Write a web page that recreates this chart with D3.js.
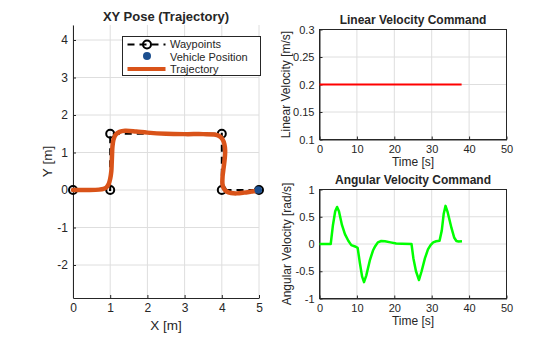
<!DOCTYPE html>
<html>
<head>
<meta charset="utf-8">
<script src="https://cdn.jsdelivr.net/npm/d3@7"></script>
<style>
  body { margin: 0; background: #fff; }
  svg { font-family: Arial, "Liberation Sans", sans-serif; }
</style>
</head>
<body>
<svg id="chart" width="560" height="337"></svg>
<script>
// waypoints
wpX = [0, 1, 1, 4, 4, 5];
wpY = [0, 0, 1.5, 1.5, 0, 0];

// followed trajectory
trajX = [0, 0.4, 0.7, 0.82, 0.9, 0.96, 1.0, 1.03, 1.04, 1.05, 1.06, 1.09, 1.15, 1.25, 1.4, 1.7, 2.0, 2.5, 3.0, 3.5, 3.8, 3.93, 4.02, 4.07, 4.09, 4.08, 4.05, 4.02, 4.02, 4.06, 4.13, 4.25, 4.4, 4.6, 4.8, 4.94, 5.0];
trajY = [0, 0, 0.01, 0.03, 0.07, 0.16, 0.3, 0.5, 0.7, 0.95, 1.15, 1.35, 1.48, 1.55, 1.58, 1.56, 1.53, 1.5, 1.49, 1.49, 1.48, 1.44, 1.35, 1.22, 1.05, 0.85, 0.6, 0.35, 0.15, 0.03, -0.04, -0.08, -0.09, -0.07, -0.04, -0.02, 0];

vehX = [4.98];
vehY = [0];

// commands
linT = [0, 38];
linV = [0.2, 0.2];

angT = [0, 3, 3.6, 4.2, 4.7, 5.2, 6, 6.8, 7.7, 8.5, 9.7, 10.2, 10.8, 11.4, 11.9, 12.5, 13.5, 14.3, 14.9, 15.6, 16.5, 17.5, 19, 20.5, 22, 24.6, 25.1, 25.8, 26.6, 27.3, 28.2, 29, 29.7, 30.4, 31.2, 32.1, 32.7, 33.2, 33.7, 34.2, 35.3, 36, 36.6, 37.2, 38.1];
angW = [0, 0, 0.35, 0.6, 0.68, 0.6, 0.35, 0.18, 0.06, -0.02, -0.05, -0.07, -0.35, -0.6, -0.7, -0.58, -0.29, -0.12, -0.04, 0.03, 0.055, 0.05, 0.03, 0.01, 0.005, 0, -0.26, -0.5, -0.66, -0.5, -0.26, -0.1, -0.02, 0.03, 0.05, 0.06, 0.25, 0.55, 0.7, 0.6, 0.29, 0.12, 0.055, 0.045, 0.05];

xyTicksX = [0, 1, 2, 3, 4, 5];
xyTicksY = [-2, -1, 0, 1, 2, 3, 4];
timeTicks = [0, 10, 20, 30, 40, 50];
linTicks = [0.1, 0.15, 0.2, 0.25, 0.3];
angTicks = [-1, -0.5, 0, 0.5, 1];

const textCol = '#262626';
const gridCol = '#dedede';
const svg = d3.select('#chart');

function panel(o) {
  const g = svg.append('g');
  const x = d3.scaleLinear().domain(o.xd).range([o.l, o.r]);
  const y = d3.scaleLinear().domain(o.yd).range([o.b, o.t]);

  // grid
  g.append('g')
    .selectAll('line')
    .data(o.xt)
    .join('line')
    .attr('x1', d => x(d)).attr('x2', d => x(d))
    .attr('y1', o.t).attr('y2', o.b)
    .attr('stroke', gridCol).attr('stroke-width', 1);
  g.append('g')
    .selectAll('line')
    .data(o.yt)
    .join('line')
    .attr('x1', o.l).attr('x2', o.r)
    .attr('y1', d => y(d)).attr('y2', d => y(d))
    .attr('stroke', gridCol).attr('stroke-width', 1);

  const xAxis = g.append('g')
    .attr('transform', `translate(0,${o.b})`)
    .call(d3.axisBottom(x).tickValues(o.xt).tickSize(-3).tickSizeOuter(0).tickPadding(o.xpad).tickFormat(d => d));
  const yAxis = g.append('g')
    .attr('transform', `translate(${o.l},0)`)
    .call(d3.axisLeft(y).tickValues(o.yt).tickSize(-3).tickSizeOuter(0).tickPadding(5).tickFormat(d => d));
  [xAxis, yAxis].forEach(a => {
    a.selectAll('text').attr('fill', textCol).attr('font-size', o.tf).attr('font-family', 'Arial, "Liberation Sans", sans-serif');
    a.selectAll('line').attr('stroke', textCol);
    a.select('.domain').attr('stroke', textCol).attr('stroke-width', 1);
  });

  if (o.box) {
    g.append('rect')
      .attr('x', o.l).attr('y', o.t)
      .attr('width', o.r - o.l).attr('height', o.b - o.t)
      .attr('fill', 'none').attr('stroke', textCol).attr('stroke-width', 1);
  }

  g.append('text')
    .attr('x', (o.l + o.r) / 2).attr('y', o.ty)
    .attr('text-anchor', 'middle')
    .attr('font-weight', 'bold').attr('font-size', o.hf)
    .attr('fill', textCol)
    .text(o.title);
  g.append('text')
    .attr('x', (o.l + o.r) / 2).attr('y', o.xly)
    .attr('text-anchor', 'middle')
    .attr('font-size', o.lf).attr('fill', textCol)
    .text(o.xl);
  g.append('text')
    .attr('transform', `translate(${o.yl_x},${(o.t + o.b) / 2}) rotate(-90)`)
    .attr('text-anchor', 'middle')
    .attr('font-size', o.lf).attr('fill', textCol)
    .text(o.yl);
  return { g, x, y };
}

// XY pose
const p1 = panel({
  l: 73, r: 259, t: 25, b: 298,
  xd: [0, 5], yd: [-2.88, 4.4],
  xt: xyTicksX, yt: xyTicksY,
  tf: 12, lf: 13.5, hf: 13, xpad: 5, ty: 20.5, xly: 330,
  title: 'XY Pose (Trajectory)', xl: 'X [m]', yl: 'Y [m]', yl_x: 52, box: false
});

const wp = d3.zip(wpX, wpY);
p1.g.append('path')
  .datum(wp)
  .attr('d', d3.line().x(d => p1.x(d[0])).y(d => p1.y(d[1])))
  .attr('fill', 'none').attr('stroke', '#000').attr('stroke-width', 2)
  .attr('stroke-dasharray', '7,5');
p1.g.append('g')
  .selectAll('circle')
  .data(wp)
  .join('circle')
  .attr('cx', d => p1.x(d[0])).attr('cy', d => p1.y(d[1]))
  .attr('r', 4).attr('fill', 'none').attr('stroke', '#000').attr('stroke-width', 2);

p1.g.append('path')
  .datum(d3.zip(trajX, trajY))
  .attr('d', d3.line().curve(d3.curveCatmullRom).x(d => p1.x(d[0])).y(d => p1.y(d[1])))
  .attr('fill', 'none').attr('stroke', '#D95319').attr('stroke-width', 4.5)
  .attr('stroke-linejoin', 'round').attr('stroke-linecap', 'round');

p1.g.append('g')
  .selectAll('circle')
  .data(d3.zip(vehX, vehY))
  .join('circle')
  .attr('cx', d => p1.x(d[0])).attr('cy', d => p1.y(d[1]))
  .attr('r', 3.8).attr('fill', '#1c4f8f');

// legend
const lg = svg.append('g').attr('transform', 'translate(122.5,36.5)');
lg.append('rect').attr('width', 138).attr('height', 39)
  .attr('fill', '#fff').attr('stroke', textCol).attr('stroke-width', 1);
lg.append('line').attr('x1', 5).attr('x2', 43).attr('y1', 8).attr('y2', 8)
  .attr('stroke', '#000').attr('stroke-width', 2).attr('stroke-dasharray', '7,5');
lg.append('circle').attr('cx', 24.5).attr('cy', 8).attr('r', 4)
  .attr('fill', 'none').attr('stroke', '#000').attr('stroke-width', 2);
lg.append('circle').attr('cx', 24.5).attr('cy', 19.5).attr('r', 4).attr('fill', '#1c4f8f');
lg.append('line').attr('x1', 5).attr('x2', 43).attr('y1', 32.5).attr('y2', 32.5)
  .attr('stroke', '#D95319').attr('stroke-width', 4);
lg.selectAll('text')
  .data(['Waypoints', 'Vehicle Position', 'Trajectory'])
  .join('text')
  .attr('x', 47.5).attr('y', (d, i) => 8 + i * 12.2)
  .attr('dy', '0.35em')
  .attr('font-size', 11).attr('fill', textCol)
  .text(d => d);

// linear velocity
const p2 = panel({
  l: 319.5, r: 506.5, t: 29.5, b: 139.5,
  xd: [0, 50], yd: [0.1, 0.3],
  xt: timeTicks, yt: linTicks,
  tf: 11, lf: 12, hf: 12, xpad: 6, ty: 23.5, xly: 166,
  title: 'Linear Velocity Command', xl: 'Time [s]', yl: 'Linear Velocity [m/s]', yl_x: 289.5, box: true
});
p2.g.append('path')
  .datum(d3.zip(linT, linV))
  .attr('d', d3.line().x(d => p2.x(d[0])).y(d => p2.y(d[1])))
  .attr('fill', 'none').attr('stroke', '#ff0000').attr('stroke-width', 2);

// angular velocity
const p3 = panel({
  l: 319.5, r: 506.5, t: 189.5, b: 298.5,
  xd: [0, 50], yd: [-1, 1],
  xt: timeTicks, yt: angTicks,
  tf: 11, lf: 12, hf: 12, xpad: 6, ty: 184, xly: 325,
  title: 'Angular Velocity Command', xl: 'Time [s]', yl: 'Angular Velocity [rad/s]', yl_x: 291, box: true
});
p3.g.append('path')
  .datum(d3.zip(angT, angW))
  .attr('d', d3.line().x(d => p3.x(d[0])).y(d => p3.y(d[1])))
  .attr('fill', 'none').attr('stroke', '#00ff00').attr('stroke-width', 2.5)
  .attr('stroke-linejoin', 'round');
</script>
</body>
</html>
